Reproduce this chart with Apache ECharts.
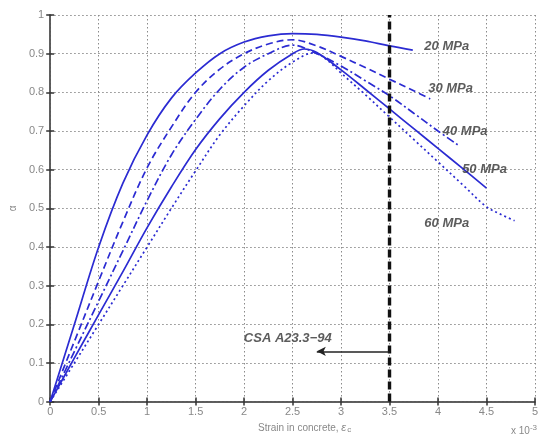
<!DOCTYPE html>
<html><head><meta charset="utf-8">
<script src="https://cdn.jsdelivr.net/npm/echarts@6/dist/echarts.min.js"></script>
<style>html,body{margin:0;padding:0;background:#fff}#c{width:541px;height:439px}</style>
</head><body><div id="c"></div>
<script>
// strain (x 10^-3) vs alpha
const curve20 = [[0,0],[0.25,0.2],[0.5,0.4],[0.75,0.565],[1.0,0.69],[1.25,0.785],[1.5,0.85],[1.75,0.9],[2.0,0.93],[2.25,0.946],[2.5,0.952],[2.75,0.95],[3.0,0.943],[3.25,0.933],[3.5,0.92],[3.74,0.909]];
const curve30 = [[0,0],[0.25,0.156],[0.5,0.312],[0.75,0.465],[1.0,0.605],[1.25,0.71],[1.5,0.8],[1.75,0.86],[2.0,0.9],[2.25,0.925],[2.5,0.936],[2.75,0.92],[3.0,0.893],[3.25,0.864],[3.5,0.834],[3.75,0.804],[3.92,0.783]];
const curve40 = [[0,0],[0.25,0.13],[0.5,0.26],[0.75,0.39],[1.0,0.52],[1.25,0.638],[1.5,0.73],[1.75,0.808],[2.0,0.865],[2.25,0.9],[2.5,0.922],[2.75,0.9],[3.0,0.868],[3.25,0.83],[3.5,0.791],[3.75,0.746],[4.0,0.7],[4.21,0.663]];
const curve50 = [[0,0],[0.25,0.113],[0.5,0.225],[0.75,0.336],[1.0,0.45],[1.25,0.555],[1.5,0.652],[1.75,0.732],[2.0,0.8],[2.25,0.857],[2.5,0.9],[2.62,0.912],[2.75,0.903],[3.0,0.858],[3.25,0.808],[3.5,0.757],[3.75,0.706],[4.0,0.655],[4.25,0.604],[4.5,0.552]];
const curve60 = [[0,0],[0.25,0.1],[0.5,0.2],[0.75,0.3],[1.0,0.4],[1.25,0.5],[1.5,0.597],[1.75,0.69],[2.0,0.765],[2.25,0.83],[2.5,0.878],[2.72,0.902],[2.85,0.885],[3.0,0.85],[3.25,0.794],[3.5,0.736],[3.75,0.678],[4.0,0.62],[4.25,0.562],[4.5,0.504],[4.65,0.484],[4.79,0.468]];
const seriesNames = ['20 MPa','30 MPa','40 MPa','50 MPa','60 MPa'];
const codeLimit = [[3.5,0],[3.5,1]];
const arrowFrom = [2.75,0.13];
const arrowTo = [3.5,0.13];
const labelPoints = [[4.09,0.92,'20 MPa'],[4.13,0.81,'30 MPa'],[4.28,0.698,'40 MPa'],[4.48,0.6,'50 MPa'],[4.09,0.46,'60 MPa'],[2.45,0.164,'CSA A23.3\u221294']];

const blue = '#2b2bd2';
const styles = ['solid',[7,4],[8,3,2,3],'solid',[2,3]];
const curves = [curve20,curve30,curve40,curve50,curve60];

const chart = echarts.init(document.getElementById('c'), null, {renderer:'canvas'});
const axisLine = {show:true, lineStyle:{color:'#555', width:1.5}};
const tick = {show:true, inside:true, length:4, lineStyle:{color:'#333', width:1.5}};
const lbl = {color:'#888', fontSize:11, fontFamily:'Liberation Sans, Arial, sans-serif'};
const series = curves.map((d,i)=>({
  name: seriesNames[i], type:'line', data:d, smooth:0.35, showSymbol:false, symbol:'none',
  lineStyle:{color:blue, width:1.7, type:styles[i]}, z:3
}));
series.push({
  type:'line', data:codeLimit, showSymbol:false, symbol:'none',
  lineStyle:{color:'#111', width:3.4, type:[8,4]}, z:4,
  markLine:{silent:true, symbol:['arrow','none'], symbolSize:[7,9],
    label:{show:false}, lineStyle:{color:'#222', type:'solid', width:1.5},
    data:[[{coord:arrowFrom},{coord:arrowTo}]]}
});
series.push({
  type:'scatter', data:labelPoints, symbolSize:0, z:5,
  label:{show:true, position:'inside', formatter:p=>p.data[2], color:'#333',
    fontSize:13, fontWeight:'bold', fontStyle:'italic', fontFamily:'Liberation Sans, Arial, sans-serif'}
});
chart.setOption({
  animation:false,
  backgroundColor:'#fff',
  grid:{left:44, right:1, top:15, bottom:33, containLabel:false},
  xAxis:[{
    type:'value', min:0, max:5, interval:0.5,
    axisLine, axisTick:tick,
    axisLabel:{...lbl, margin:5, formatter:v=>String(v)},
    splitLine:{show:true, lineStyle:{color:'#8a8a8a', type:[1.5,2.5], width:1}},
    name:'Strain in concrete, {e|\u03b5}{s|c}', nameLocation:'middle', nameGap:20,
    nameTextStyle:{color:'#888', fontSize:10, fontFamily:'Liberation Sans, Arial, sans-serif',
      padding:[0,0,0,24],
      rich:{e:{fontSize:11, fontStyle:'italic', color:'#888'}, s:{fontSize:8, color:'#888', verticalAlign:'bottom', padding:[4,0,0,1]}}}
  },{
    type:'value', position:'top', min:0, max:5, interval:0.5,
    axisLine, axisTick:tick, axisLabel:{show:false}, splitLine:{show:false}
  }],
  yAxis:[{
    type:'value', min:0, max:1, interval:0.1,
    axisLine, axisTick:tick,
    axisLabel:{...lbl, margin:6, formatter:v=>String(Math.round(v*10)/10)},
    splitLine:{show:true, lineStyle:{color:'#8a8a8a', type:[1.5,2.5], width:1}},
    name:'\u03b1', nameLocation:'middle', nameGap:24, nameRotate:90,
    nameTextStyle:{color:'#888', fontSize:10}
  },{
    type:'value', position:'right', min:0, max:1, interval:0.1,
    axisLine, axisTick:tick, axisLabel:{show:false}, splitLine:{show:false}
  }],
  series,
  graphic:[{type:'text', left:511, top:424,
    style:{text:'x 10{s|-3}', fill:'#888', fontSize:10, fontFamily:'Liberation Sans, Arial, sans-serif',
      rich:{s:{fontSize:8, fill:'#888', verticalAlign:'top', padding:[0,0,6,0]}}}}]
});
</script></body></html>
